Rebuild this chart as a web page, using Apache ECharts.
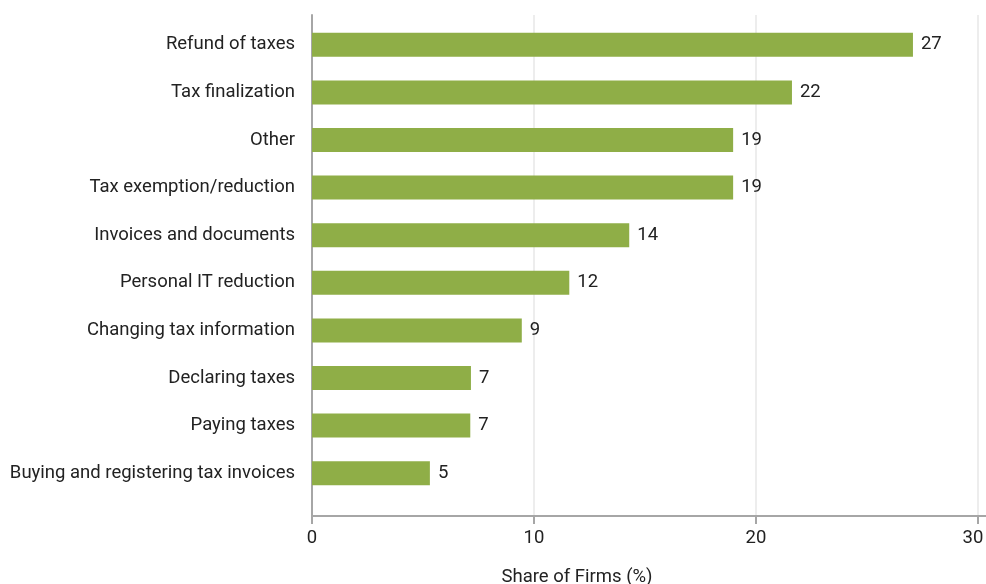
<!DOCTYPE html>
<html>
<head>
<meta charset="utf-8">
<script src="https://cdn.jsdelivr.net/npm/echarts@6/dist/echarts.min.js"></script>
<style>
  html, body { margin: 0; padding: 0; background: #fff; }
  #chart { width: 986px; height: 584px; }
</style>
</head>
<body>
<div id="chart"></div>
<script>
// Service categories, listed top to bottom
const categories = [
  'Refund of taxes',
  'Tax finalization',
  'Other',
  'Tax exemption/reduction',
  'Invoices and documents',
  'Personal IT reduction',
  'Changing tax information',
  'Declaring taxes',
  'Paying taxes',
  'Buying and registering tax invoices'
];

// Share of firms (%) for each category
const shares = [27.07, 21.62, 18.97, 18.97, 14.29, 11.59, 9.45, 7.16, 7.13, 5.31];

// X axis ticks
const xTicks = [0, 10, 20, 30];

const FONT = 'Roboto, "Noto Sans", sans-serif';
const FS = 18.5;
const TEXT = '#222222';
const AXIS = '#a6a6a6';
const GRIDLINE = '#ededed';
const BAR = '#8fae47';
const X_MAX = xTicks[xTicks.length - 1];

const chart = echarts.init(document.getElementById('chart'), null, { renderer: 'canvas' });

chart.setOption({
  animation: false,
  backgroundColor: '#ffffff',
  textStyle: { fontFamily: FONT },
  title: {
    text: 'Share of Firms (%)',
    left: 572,
    top: 563,
    textAlign: 'center',
    textStyle: { fontFamily: FONT, fontSize: FS, fontWeight: 'normal', color: TEXT }
  },
  grid: [
    // bars
    { left: 312, right: 8, top: 21, bottom: 87, outerBoundsMode: 'none' },
    // frame: ticks, tick labels, grid lines, y axis line
    { left: 312, right: 8, top: 15, bottom: 68, outerBoundsMode: 'none' },
    // x axis line running to the right edge
    { left: 312, right: 0, top: 15, bottom: 68, outerBoundsMode: 'none' }
  ],
  xAxis: [
    { gridIndex: 0, type: 'value', min: xTicks[0], max: X_MAX, show: false },
    {
      gridIndex: 1, type: 'value', min: xTicks[0], max: X_MAX, interval: 10,
      axisLine: { show: false },
      axisTick: { show: true, length: 8, lineStyle: { color: AXIS, width: 2 } },
      splitLine: { show: true, lineStyle: { color: GRIDLINE, width: 2 } },
      axisLabel: {
        fontFamily: FONT, fontSize: FS, color: TEXT, margin: 13,
        // keep the last tick label inside the canvas
        formatter: v => (v === X_MAX ? '{edge|' + v + '}' : String(v)),
        rich: {
          edge: { fontFamily: FONT, fontSize: FS, color: TEXT, padding: [0, 10, 0, 0] }
        }
      }
    },
    {
      gridIndex: 2, type: 'value', min: 0, max: 1,
      axisLine: { show: true, lineStyle: { color: AXIS, width: 2 } },
      axisTick: { show: false }, axisLabel: { show: false }, splitLine: { show: false }
    }
  ],
  yAxis: [
    {
      gridIndex: 0, type: 'category', data: categories, inverse: true,
      axisLine: { show: false }, axisTick: { show: false },
      axisLabel: { fontFamily: FONT, fontSize: FS, color: TEXT, margin: 17 }
    },
    {
      gridIndex: 1, type: 'value', min: 0, max: 1,
      axisLine: { show: true, lineStyle: { color: AXIS, width: 2 } },
      axisTick: { show: false }, axisLabel: { show: false }, splitLine: { show: false }
    },
    {
      gridIndex: 2, type: 'value', min: 0, max: 1, show: false
    }
  ],
  series: [
    {
      type: 'bar',
      xAxisIndex: 0,
      yAxisIndex: 0,
      data: shares,
      barWidth: 24,
      itemStyle: { color: BAR },
      label: {
        show: true,
        position: 'right',
        distance: 8,
        fontFamily: FONT,
        fontSize: FS,
        color: TEXT,
        formatter: p => Math.round(p.value)
      }
    }
  ]
});
</script>
</body>
</html>
